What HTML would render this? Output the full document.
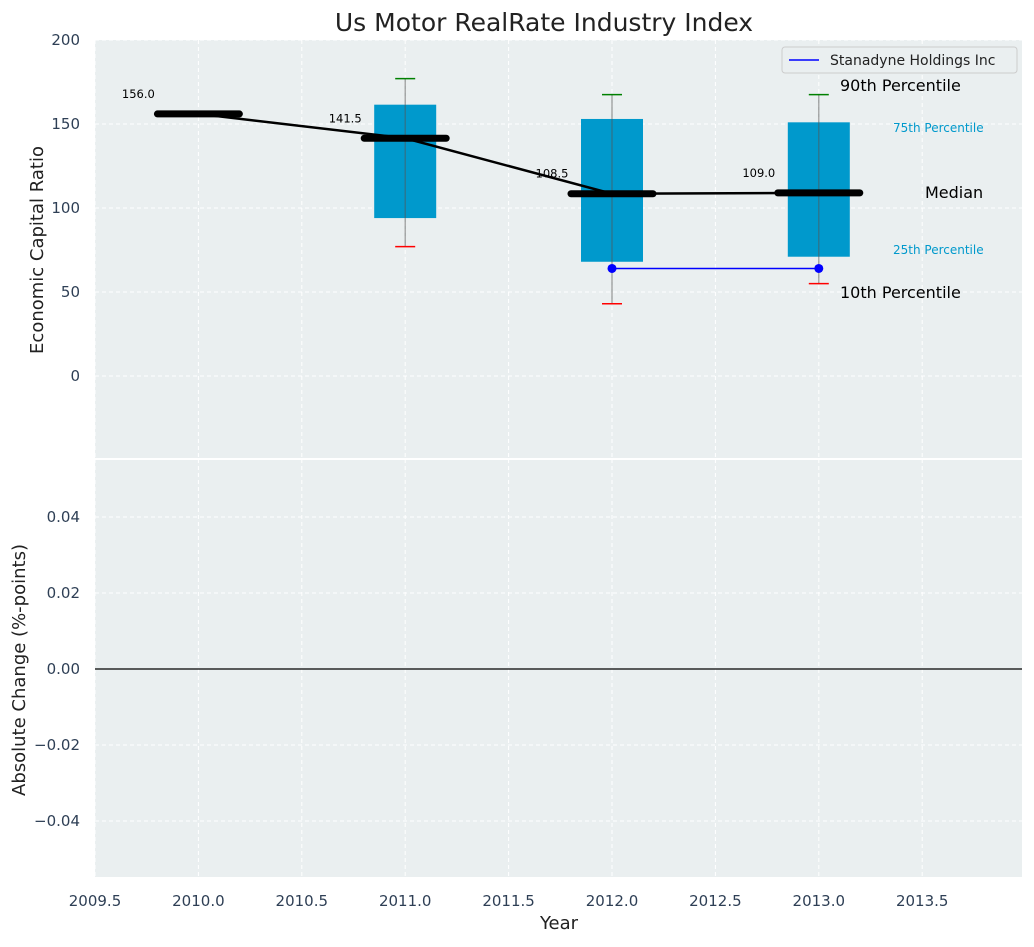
<!DOCTYPE html>
<html><head><meta charset="utf-8"><style>
body{margin:0;background:#fff;font-family:"Liberation Sans","DejaVu Sans",sans-serif;}
svg text{font-family:"DejaVu Sans","Liberation Sans",sans-serif;}
</style></head><body>
<svg id="c" width="1034" height="942" xmlns="http://www.w3.org/2000/svg"></svg>
<script>
const years=[2010,2011,2012,2013];
const medians=[156.0,141.5,108.5,109.0];
const q1=[null,94,68,71];
const q3=[null,161.5,153,151];
const p10=[null,77,43,55];
const p90=[null,177,167.5,167.5];
const companyYears=[2012,2013];
const companyVals=[64,64];
const xTicks=[2009.5,2010.0,2010.5,2011.0,2011.5,2012.0,2012.5,2013.0,2013.5];
const yTicksTop=[0,50,100,150,200];
const yTicksBot=[-0.04,-0.02,0.00,0.02,0.04];

const NS="http://www.w3.org/2000/svg";
const svg=document.getElementById('c');
function el(t,a,p){const e=document.createElementNS(NS,t);for(const k in a)e.setAttribute(k,a[k]);(p||svg).appendChild(e);return e;}
const L=95,R=1022,T1=40,B1=459,T2=459,B2=877;
const X=v=>L+(v-2009.5)*206.8;
const Y1=v=>376-v*1.68;
const Y2=v=>669-v*3800;

let e;
e=el('rect',{x:L,y:T1,width:R-L,height:B1-T1,fill:'#eaeff0'});

e=el('rect',{x:L,y:T2+1,width:R-L,height:B2-T2-1,fill:'#eaeff0'});

el('line',{x1:L,x2:R,y1:459,y2:459,stroke:'#fff','stroke-width':2});

xTicks.forEach(v=>{[ [T1,B1],[T2,B2] ].forEach(r=>{el('line',{x1:X(v),x2:X(v),y1:r[0],y2:r[1],stroke:'#fff','stroke-dasharray':'4,3','stroke-width':1});});
 e=el('text',{x:X(v),y:906,'text-anchor':'middle','font-size':15,fill:'#2e3f55'});e.textContent=v.toFixed(1);
 });
yTicksTop.forEach(v=>{el('line',{x1:L,x2:R,y1:Y1(v),y2:Y1(v),stroke:'#fff','stroke-dasharray':'4,3'});
 e=el('text',{x:80,y:Y1(v)+5,'text-anchor':'end','font-size':15,fill:'#2e3f55'});e.textContent=v;
 });
yTicksBot.forEach(v=>{el('line',{x1:L,x2:R,y1:Y2(v),y2:Y2(v),stroke:'#fff','stroke-dasharray':'4,3'});
 e=el('text',{x:80,y:Y2(v)+5,'text-anchor':'end','font-size':15,fill:'#2e3f55'});e.textContent=(v<0?'\u2212':'')+Math.abs(v).toFixed(2);
 });
e=el('line',{x1:L,x2:R,y1:Y2(0),y2:Y2(0),stroke:'#000','stroke-width':1.2});


years.forEach((yr,i)=>{
 if(q1[i]==null)return;
 const cx=X(yr);
 e=el('rect',{x:cx-31,y:Y1(q3[i]),width:62,height:Y1(q1[i])-Y1(q3[i]),fill:'#0099cc'});
 
 el('line',{x1:cx,x2:cx,y1:Y1(p90[i]),y2:Y1(p10[i]),stroke:'#555','stroke-opacity':0.6,'stroke-width':1.2});
 e=el('line',{x1:cx-10,x2:cx+10,y1:Y1(p90[i]),y2:Y1(p90[i]),stroke:'green','stroke-width':1.5});
 
 e=el('line',{x1:cx-10,x2:cx+10,y1:Y1(p10[i]),y2:Y1(p10[i]),stroke:'red','stroke-width':1.5});
 
});
e=el('polyline',{points:years.map((y,i)=>X(y)+','+Y1(medians[i])).join(' '),fill:'none',stroke:'#000','stroke-width':2.5});

years.forEach((yr,i)=>{
 e=el('line',{x1:X(yr)-41,x2:X(yr)+41,y1:Y1(medians[i]),y2:Y1(medians[i]),stroke:'#000','stroke-width':7,'stroke-linecap':'round'});
 
 e=el('text',{x:X(yr)-60,y:Y1(medians[i])-16,'text-anchor':'middle','font-size':11.5,fill:'#000'});e.textContent=medians[i].toFixed(1);
 
});
e=el('polyline',{points:companyYears.map((y,i)=>X(y)+','+Y1(companyVals[i])).join(' '),fill:'none',stroke:'blue','stroke-width':1.5});

companyYears.forEach((y,i)=>{e=el('circle',{cx:X(y),cy:Y1(companyVals[i]),r:4.5,fill:'blue'});
 });

function txt(x,y,s,size,fill,name,anchor){const t=el('text',{x:x,y:y,'font-size':size,fill:fill,'text-anchor':anchor||'start'});t.textContent=s;return t;}
txt(840,91,'90th Percentile',16,'#000','p90-annotation');
txt(893,132,'75th Percentile',12,'#0099cc','p75-annotation');
txt(925,198,'Median',16,'#000','median-annotation');
txt(893,254,'25th Percentile',12,'#0099cc','p25-annotation');
txt(840,298,'10th Percentile',16,'#000','p10-annotation');

e=el('g',{});
el('rect',{x:782,y:47,width:235,height:26,rx:3,fill:'#eaeff0',stroke:'#ccc'},e);
el('line',{x1:789,x2:819,y1:60,y2:60,stroke:'blue','stroke-width':1.5},e);
const lt=el('text',{x:830,y:65,'font-size':14,fill:'#222'},e);lt.textContent='Stanadyne Holdings Inc';

txt(544,31,'Us Motor RealRate Industry Index',25,'#222','chart-title','middle');
txt(559,929,'Year',18,'#222','x-axis-title','middle');
let t=txt(0,0,'Economic Capital Ratio',18,'#222','y-axis-title-top','middle');t.setAttribute('transform','translate(43,250) rotate(-90)');
t=txt(0,0,'Absolute Change (%-points)',18,'#222','y-axis-title-bottom','middle');t.setAttribute('transform','translate(25,670) rotate(-90)');
</script>
</body></html>
